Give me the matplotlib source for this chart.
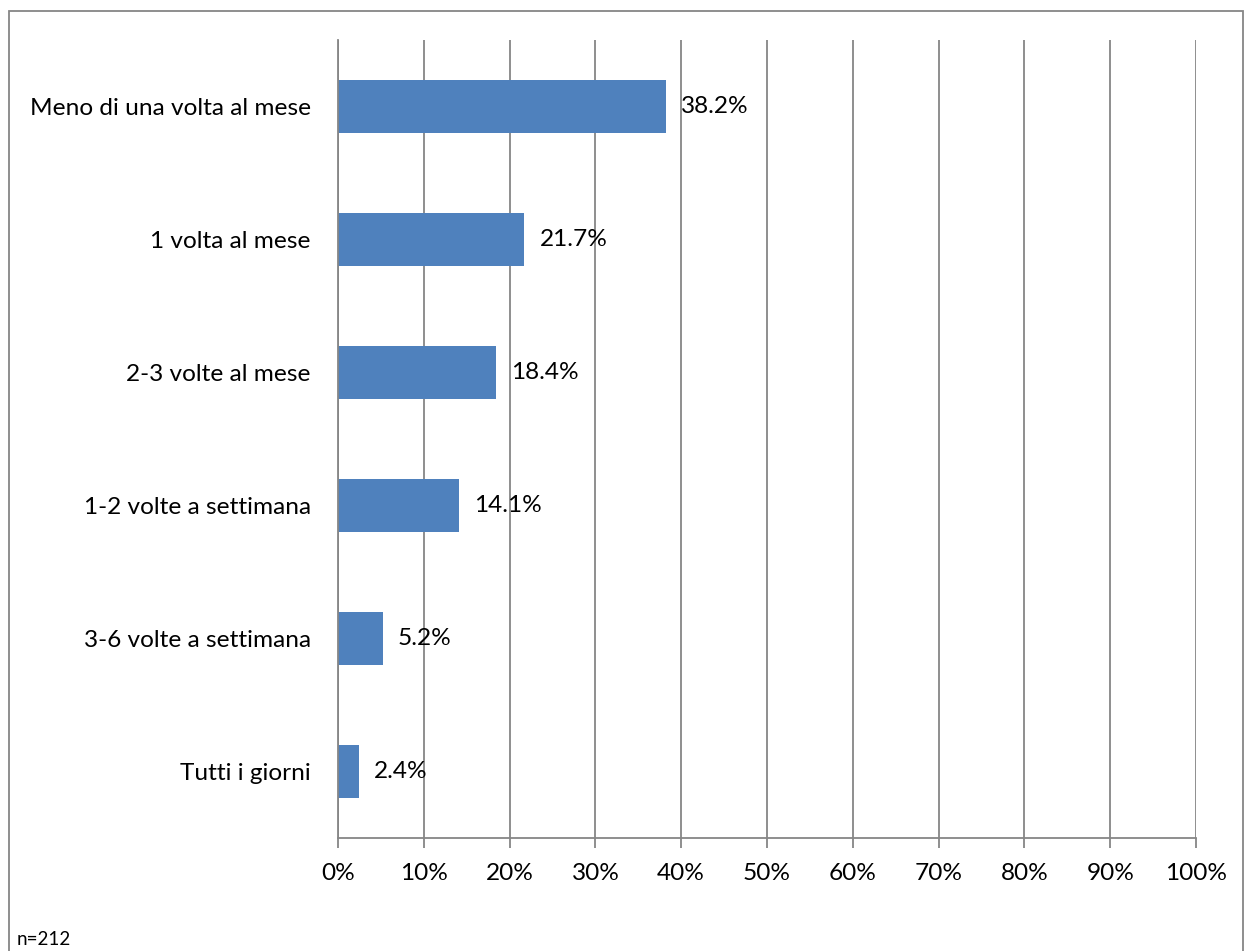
import matplotlib
matplotlib.use("Agg")
import matplotlib.pyplot as plt
from matplotlib.patches import Rectangle
from matplotlib.ticker import FuncFormatter, MultipleLocator

categories = ["Meno di una volta al mese", "1 volta al mese", "2-3 volte al mese",
              "1-2 volte a settimana", "3-6 volte a settimana", "Tutti i giorni"]
values = [38.2, 21.7, 18.4, 14.1, 5.2, 2.4]
note = "n=212"

plt.rcParams['font.family'] = ['Lato', 'DejaVu Sans']
W, H = 1245, 951
fig = plt.figure(figsize=(W/100, H/100), dpi=100)
ax = fig.add_axes([338/W, 1-838/H, (1196-338)/W, (838-40)/H])

grid_c = "#868686"
bar_c = "#4F81BD"
fs = 17.6
ypos = list(range(len(categories)))[::-1]
ax.barh(ypos, values, height=0.4, color=bar_c, zorder=2)
ax.set_ylim(-0.5, len(categories)-0.5)
ax.set_xlim(0, 100)
ax.xaxis.set_major_locator(MultipleLocator(10))
ax.xaxis.set_major_formatter(FuncFormatter(lambda v, p: f"{int(round(v))}%"))
ax.grid(axis='x', color=grid_c, linewidth=1.3, zorder=1)
ax.set_axisbelow(True)
ax.set_yticks(ypos)
ax.set_yticklabels(categories, fontsize=fs)
ax.tick_params(axis='y', length=0, pad=19.5)
ax.tick_params(axis='x', length=7, width=1.3, color=grid_c, labelsize=fs, pad=11)
for s in ['top', 'right']:
    ax.spines[s].set_visible(False)
for s in ['left', 'bottom']:
    ax.spines[s].set_color(grid_c)
    ax.spines[s].set_linewidth(1.3)

for y, v in zip(ypos, values):
    ax.annotate(f"{v:.1f}%", xy=(v, y), xytext=(11, 0), textcoords='offset points',
                va='center', ha='left', fontsize=fs, zorder=3)

fig.patches.append(Rectangle((9/W, -0.05), (1243-9)/W, 1-11/H+0.05,
                             transform=fig.transFigure, fill=False,
                             edgecolor=grid_c, linewidth=1.3))
fig.text(17/W, 1-945/H, note, fontsize=13.5, ha='left', va='baseline')
fig.savefig("out.png", dpi=100)
